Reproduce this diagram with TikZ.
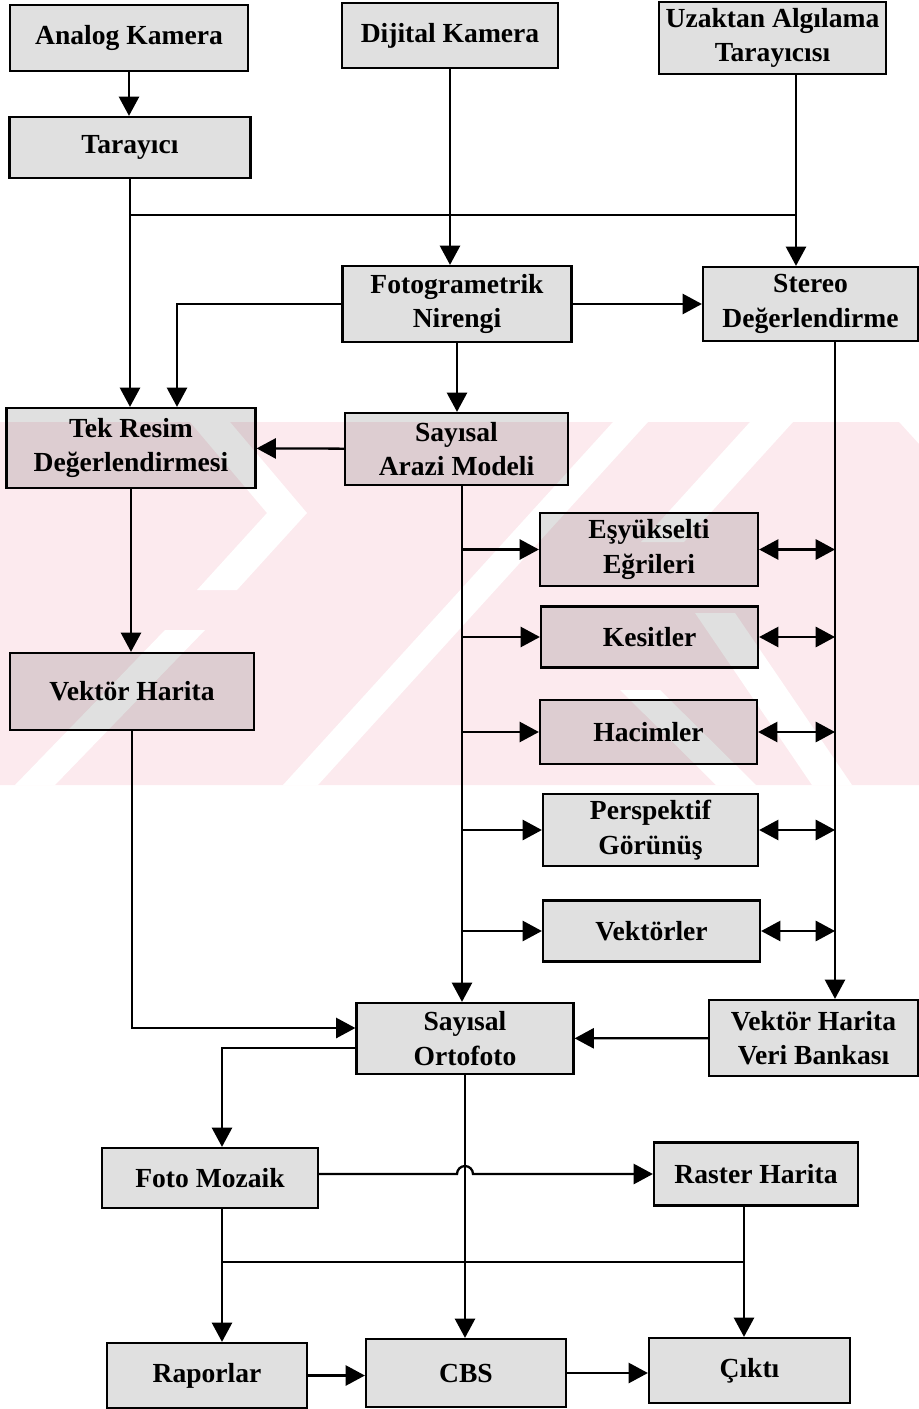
\documentclass[tikz,border=0pt]{standalone}
\usepackage{fontspec}
\setmainfont{Liberation Serif}
\usepackage{tikz}
\usetikzlibrary{shapes, arrows.meta}
\definecolor{watermark}{RGB}{252,234,238}
\tikzstyle{process} = [rectangle, draw, line width=1.3pt, fill=black, fill opacity=0.12, text opacity=1, text centered, align=center, inner sep=2pt, font=\fontsize{15.7}{19.5}\selectfont\bfseries]
\tikzstyle{connector} = [draw, line width=1.3pt, -{Triangle[length=11pt, width=11.5pt]}]
\tikzstyle{biconnector} = [draw, line width=1.3pt, {Triangle[length=11pt, width=11.5pt]}-{Triangle[length=11pt, width=11.5pt]}]
\tikzstyle{line} = [draw, line width=1.3pt]

\begin{document}
\begin{tikzpicture}[x=0.02cm, y=-0.02cm]
        \useasboundingbox (0,0) rectangle (919,1409);
        % watermark
        \fill [watermark] (0,422) -- (899,422) -- (919,444) -- (919,785) -- (0,785) -- cycle;
        \fill [white] (613,422) -- (648,422) -- (318,785) -- (283,785) -- cycle;
        \fill [white] (750,422) -- (793,422) -- (684,542) -- (641,542) -- cycle;
        \fill [white] (620,690) -- (660,690) -- (756,785) -- (716,785) -- cycle;
        \fill [white] (695,613) -- (735,613) -- (852,785) -- (812,785) -- cycle;
        \fill [white] (190,422) -- (230,422) -- (307,513) -- (237,590) -- (197,590) -- (267,513) -- cycle;
        \fill [white] (165,630) -- (205,630) -- (55,785) -- (15,785) -- cycle;

        \node [process, minimum width=4.76cm, minimum height=1.32cm] at (129,38) (analog) {Analog Kamera};
        \node [process, minimum width=4.32cm, minimum height=1.30cm] at (450,35.5) (dijital) {Dijital Kamera};
        \node [process, minimum width=4.54cm, minimum height=1.44cm] at (772.5,38) (uzaktan) {Uzaktan Algılama\\Tarayıcısı};
        \node [process, minimum width=4.82cm, minimum height=1.22cm] at (130,147.5) (tarayici) {Tarayıcı};
        \node [process, minimum width=4.58cm, minimum height=1.52cm] at (457,304) (foto) {Fotogrametrik\\Nirengi};
        \node [process, minimum width=4.30cm, minimum height=1.48cm] at (810.5,304) (stereo) {Stereo\\Değerlendirme};
        \node [process, minimum width=4.98cm, minimum height=1.60cm] at (131,448) (tekresim) {Tek Resim\\Değerlendirmesi};
        \node [process, minimum width=4.46cm, minimum height=1.44cm] at (456.5,449) (sam) {Sayısal\\Arazi Modeli};
        \node [process, minimum width=4.36cm, minimum height=1.46cm] at (649,549.5) (esy) {Eşyükselti\\Eğrileri};
        \node [process, minimum width=4.34cm, minimum height=1.22cm] at (649.5,637) (kesit) {Kesitler};
        \node [process, minimum width=4.34cm, minimum height=1.28cm] at (648.5,732) (hacim) {Hacimler};
        \node [process, minimum width=4.30cm, minimum height=1.44cm] at (650.5,830) (persp) {Perspektif\\Görünüş};
        \node [process, minimum width=4.34cm, minimum height=1.22cm] at (651.5,931) (vektorler) {Vektörler};
        \node [process, minimum width=4.88cm, minimum height=1.54cm] at (132,691.5) (vharita) {Vektör Harita};
        \node [process, minimum width=4.34cm, minimum height=1.42cm] at (465,1038.5) (ortofoto) {Sayısal\\Ortofoto};
        \node [process, minimum width=4.18cm, minimum height=1.52cm] at (813.5,1038) (veribank) {Vektör Harita\\Veri Bankası};
        \node [process, minimum width=4.32cm, minimum height=1.20cm] at (210,1178) (mozaik) {Foto Mozaik};
        \node [process, minimum width=4.08cm, minimum height=1.26cm] at (756,1174) (raster) {Raster Harita};
        \node [process, minimum width=4.00cm, minimum height=1.30cm] at (207,1375.5) (raporlar) {Raporlar};
        \node [process, minimum width=4.00cm, minimum height=1.36cm] at (466,1373) (cbs) {CBS};
        \node [process, minimum width=4.02cm, minimum height=1.30cm] at (749.5,1370.5) (cikti) {Çıktı};

        \coordinate (bus1) at (0,215);
        \coordinate (bus2) at (0,1262);
        \coordinate (uzx) at (796,0);
        \coordinate (fx) at (177,0);
        \coordinate (samx) at (462,0);
        \coordinate (stx) at (835,0);
        \coordinate (mozx) at (222,0);
        \coordinate (rasx) at (744,0);

        \path [connector] (analog) -- (analog |- tarayici.north);
        \path [connector] (tarayici.south) -- (tarayici.south |- tekresim.north);
        \path [line] (tarayici.south |- bus1) -- (uzx |- bus1);
        \path [connector] (uzx |- uzaktan.south) -- (uzx |- stereo.north);
        \path [connector] (dijital.south) -- (dijital.south |- foto.north);
        \path [connector] (foto) -- (stereo);
        \path [connector] (foto.west) -| (fx |- tekresim.north);
        \path [connector] (foto.south) -- (foto.south |- sam.north);
        \path [connector] (sam) -- (tekresim);
        \path [connector] (tekresim.south) -- (tekresim.south |- vharita.north);
        \path [connector] (samx |- sam.south) -- (samx |- ortofoto.north);
        \foreach \n in {esy, kesit, hacim, persp, vektorler} {
            \path [connector] (samx |- \n.west) -- (\n.west);
            \path [biconnector] (\n.east) -- (stx |- \n.east);
        }
        \path [connector] (stx |- stereo.south) -- (stx |- veribank.north);
        \path [connector] (vharita.south) |- ([yshift=0.21cm]ortofoto.west);
        \path [connector] (veribank) -- (ortofoto);
        \path [connector] ([yshift=-0.19cm]ortofoto.west) -| (mozx |- mozaik.north);
        \path [connector] (ortofoto.south) -- (ortofoto.south |- cbs.north);
        \path [connector] (mozaik.east |- raster.west) -- ([xshift=-0.16cm]ortofoto.south |- raster.west)
            arc [start angle=180, end angle=0, radius=0.16cm] -- (raster.west);
        \path [connector] (mozx |- mozaik.south) -- (mozx |- raporlar.north);
        \path [line] (mozx |- bus2) -- (rasx |- bus2);
        \path [connector] (rasx |- raster.south) -- (rasx |- cikti.north);
        \path [connector] (raporlar.east) -- (raporlar.east -| cbs.west);
        \path [connector] (cbs.east) -- (cbs.east -| cikti.west);
\end{tikzpicture}
\end{document}
